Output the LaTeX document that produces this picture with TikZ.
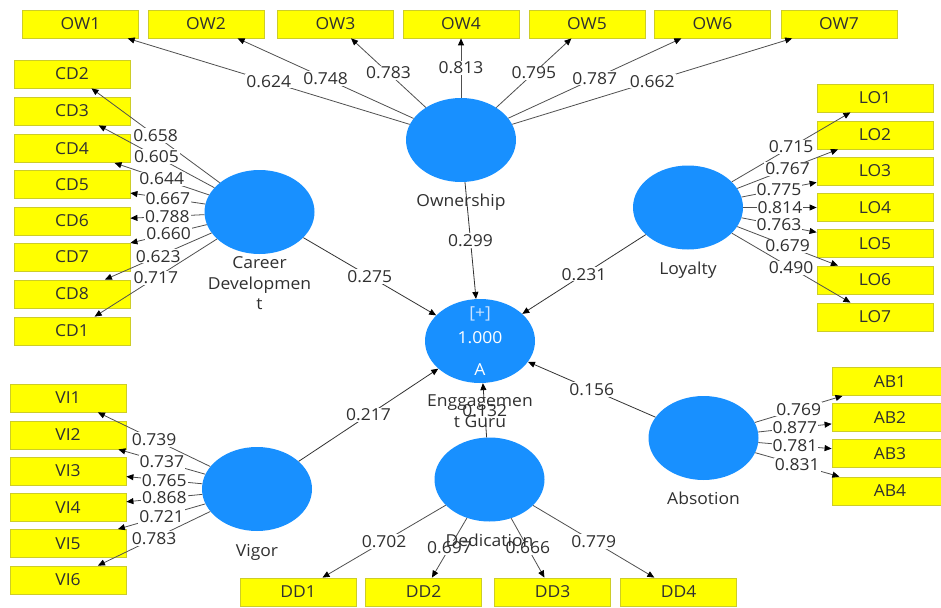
\documentclass[tikz,border=0pt]{standalone}
\usepackage{fontspec}
\setmainfont[FakeStretch=1.06]{Open Sans}
\usetikzlibrary{arrows.meta,shapes.geometric}

\definecolor{lvblue}{RGB}{24,144,255}
\definecolor{mvyellow}{RGB}{255,255,0}
\definecolor{mvborder}{RGB}{205,205,40}
\definecolor{txtgray}{RGB}{48,48,48}
\definecolor{linegray}{RGB}{80,80,80}
\definecolor{plusblue}{RGB}{205,228,255}

\begin{document}
\begin{tikzpicture}[x=1pt,y=-1pt,
  every node/.style={font=\fontsize{16.5}{20.5}\selectfont},
  latent/.style={ellipse, fill=lvblue, minimum width=110pt, minimum height=84pt, inner sep=0pt},
  indicator/.style={rectangle, draw=mvborder, line width=0.8pt, fill=mvyellow,
    minimum width=116pt, minimum height=28pt, inner sep=0pt, text=txtgray},
  loading/.style={draw=linegray, line width=0.8pt,
    -{Triangle[length=7pt,width=6pt,color=black,fill=black]}},
  pathline/.style={draw=black!80, line width=0.8pt,
    -{Triangle[length=7pt,width=6pt,color=black,fill=black]}},
  wt/.style={fill=white, inner sep=1pt, text=txtgray},
  lvname/.style={anchor=north, align=center, inner sep=0pt, text=txtgray},
  innertxt/.style={inner sep=0pt, text=white}
]
\useasboundingbox[fill=white] (0,0) rectangle (941,607);

% latent variables
\node[latent] (own) at (461,140) {};
\node[latent] (car) at (259.5,212) {};
\node[latent] (loy) at (688,207.5) {};
\node[latent] (eng) at (480,341) {};
\node[latent] (ded) at (489.5,479.5) {};
\node[latent] (vig) at (257,489) {};
\node[latent] (abs) at (703.5,438) {};

% Ownership indicators
\node[indicator] (ow1) at (80.5,24) {OW1};
\node[indicator] (ow2) at (206,24) {OW2};
\node[indicator] (ow3) at (335.5,24) {OW3};
\node[indicator] (ow4) at (461,24) {OW4};
\node[indicator] (ow5) at (587,24) {OW5};
\node[indicator] (ow6) at (712.5,24) {OW6};
\node[indicator] (ow7) at (839,24) {OW7};

% Career Development indicators
\node[indicator] (cd2) at (72,74) {CD2};
\node[indicator] (cd3) at (72,111) {CD3};
\node[indicator] (cd4) at (72,148.5) {CD4};
\node[indicator] (cd5) at (72,184.5) {CD5};
\node[indicator] (cd6) at (72,221) {CD6};
\node[indicator] (cd7) at (72,257) {CD7};
\node[indicator] (cd8) at (72,294) {CD8};
\node[indicator] (cd1) at (72,331) {CD1};

% Loyalty indicators
\node[indicator] (lo1) at (875,98) {LO1};
\node[indicator] (lo2) at (875,135) {LO2};
\node[indicator] (lo3) at (875,171) {LO3};
\node[indicator] (lo4) at (875,207.5) {LO4};
\node[indicator] (lo5) at (875,243.5) {LO5};
\node[indicator] (lo6) at (875,280) {LO6};
\node[indicator] (lo7) at (875,317) {LO7};

% Vigor indicators
\node[indicator] (vi1) at (68,398) {VI1};
\node[indicator] (vi2) at (68,435) {VI2};
\node[indicator] (vi3) at (68,471) {VI3};
\node[indicator] (vi4) at (68,507.5) {VI4};
\node[indicator] (vi5) at (68,543.5) {VI5};
\node[indicator] (vi6) at (68,580) {VI6};

% Dedication indicators
\node[indicator] (dd1) at (298,592) {DD1};
\node[indicator] (dd2) at (423.5,592) {DD2};
\node[indicator] (dd3) at (552.5,592) {DD3};
\node[indicator] (dd4) at (678.5,592) {DD4};

% Absotion indicators
\node[indicator] (ab1) at (890,381.5) {AB1};
\node[indicator] (ab2) at (890,417.5) {AB2};
\node[indicator] (ab3) at (890,453.5) {AB3};
\node[indicator] (ab4) at (890,491) {AB4};

% outer loadings
\draw[loading] (own) -- node[wt] (w-ow1) {0.624} (ow1);
\draw[loading] (own) -- node[wt] (w-ow2) {0.748} (ow2);
\draw[loading] (own) -- node[wt] (w-ow3) {0.783} (ow3);
\draw[loading] (own) -- node[wt] (w-ow4) {0.813} (ow4);
\draw[loading] (own) -- node[wt] (w-ow5) {0.795} (ow5);
\draw[loading] (own) -- node[wt] (w-ow6) {0.787} (ow6);
\draw[loading] (own) -- node[wt] (w-ow7) {0.662} (ow7);

\draw[loading] (car) -- node[wt] (w-cd2) {0.658} (cd2);
\draw[loading] (car) -- node[wt] (w-cd3) {0.605} (cd3);
\draw[loading] (car) -- node[wt] (w-cd4) {0.644} (cd4);
\draw[loading] (car) -- node[wt] (w-cd5) {0.667} (cd5);
\draw[loading] (car) -- node[wt] (w-cd6) {0.788} (cd6);
\draw[loading] (car) -- node[wt] (w-cd7) {0.660} (cd7);
\draw[loading] (car) -- node[wt] (w-cd8) {0.623} (cd8);
\draw[loading] (car) -- node[wt] (w-cd1) {0.717} (cd1);

\draw[loading] (loy) -- node[wt] (w-lo1) {0.715} (lo1);
\draw[loading] (loy) -- node[wt] (w-lo2) {0.767} (lo2);
\draw[loading] (loy) -- node[wt] (w-lo3) {0.775} (lo3);
\draw[loading] (loy) -- node[wt] (w-lo4) {0.814} (lo4);
\draw[loading] (loy) -- node[wt] (w-lo5) {0.763} (lo5);
\draw[loading] (loy) -- node[wt] (w-lo6) {0.679} (lo6);
\draw[loading] (loy) -- node[wt] (w-lo7) {0.490} (lo7);

\draw[loading] (vig) -- node[wt] (w-vi1) {0.739} (vi1);
\draw[loading] (vig) -- node[wt] (w-vi2) {0.737} (vi2);
\draw[loading] (vig) -- node[wt] (w-vi3) {0.765} (vi3);
\draw[loading] (vig) -- node[wt] (w-vi4) {0.868} (vi4);
\draw[loading] (vig) -- node[wt] (w-vi5) {0.721} (vi5);
\draw[loading] (vig) -- node[wt] (w-vi6) {0.783} (vi6);

\draw[loading] (ded) -- node[wt] (w-dd1) {0.702} (dd1);
\draw[loading] (ded) -- node[wt] (w-dd2) {0.697} (dd2);
\draw[loading] (ded) -- node[wt] (w-dd3) {0.666} (dd3);
\draw[loading] (ded) -- node[wt] (w-dd4) {0.779} (dd4);

\draw[loading] (abs) -- node[wt] (w-ab1) {0.769} (ab1);
\draw[loading] (abs) -- node[wt] (w-ab2) {0.877} (ab2);
\draw[loading] (abs) -- node[wt] (w-ab3) {0.781} (ab3);
\draw[loading] (abs) -- node[wt] (w-ab4) {0.831} (ab4);

% structural paths into the engagement construct
\draw[pathline] (own) -- node[wt] (p-own) {0.299} (eng);
\draw[pathline] (car) -- node[wt] (p-car) {0.275} (eng);
\draw[pathline] (loy) -- node[wt] (p-loy) {0.231} (eng);
\draw[pathline] (vig) -- node[wt] (p-vig) {0.217} (eng);
\draw[pathline] (ded) -- node[wt] (p-ded) {0.132} (eng);
\draw[pathline] (abs) -- node[wt] (p-abs) {0.156} (eng);

% values inside the engagement construct
\node[innertxt, text=plusblue] (eng-plus) at (480,314) {[+]};
\node[innertxt] (eng-r2) at (480,338) {1.000};
\node[innertxt] (eng-mode) at (480,370) {A};

% construct names
\node[lvname] (n-own) at (461,194) {Ownership};
\node[lvname] (n-car) at (259.5,256.5) {Career\\Developmen\\t};
\node[lvname] (n-loy) at (688,262) {Loyalty};
\node[lvname] (n-eng) at (480,395) {Enggagemen\\t Guru};
\node[lvname] (n-ded) at (489.5,533.5) {Dedication};
\node[lvname] (n-vig) at (257,544) {Vigor};
\node[lvname] (n-abs) at (703.5,492) {Absotion};
\end{tikzpicture}
\end{document}
